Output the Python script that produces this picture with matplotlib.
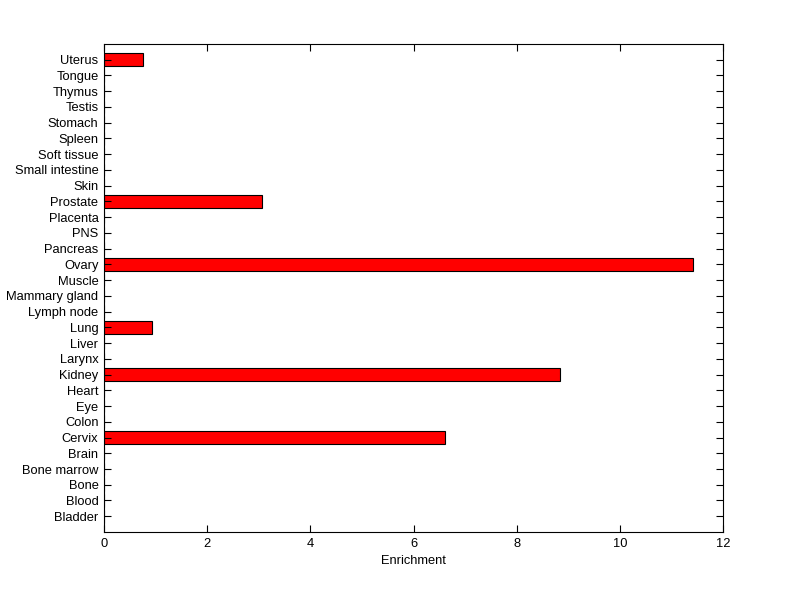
import numpy as np
import matplotlib
matplotlib.use("Agg")
import matplotlib.pyplot as plt

plt.rcParams['font.family'] = ['Liberation Sans', 'DejaVu Sans']
plt.rcParams['font.size'] = 9.3

tissues = ["Bladder", "Blood", "Bone", "Bone marrow", "Brain", "Cervix", "Colon",
           "Eye", "Heart", "Kidney", "Larynx", "Liver", "Lung", "Lymph node",
           "Mammary gland", "Muscle", "Ovary", "Pancreas", "PNS", "Placenta",
           "Prostate", "Skin", "Small intestine", "Soft tissue", "Spleen",
           "Stomach", "Testis", "Thymus", "Tongue", "Uterus"]
enrichment = [0, 0, 0, 0, 0, 6.61, 0,
              0, 0, 8.84, 0, 0, 0.93, 0,
              0, 0, 11.42, 0, 0, 0,
              3.06, 0, 0, 0, 0,
              0, 0, 0, 0, 0.75]

fig = plt.figure(figsize=(8, 5.99), dpi=100)
ax = fig.add_axes([0.13, 0.1119, 0.774, 0.8147])

ypos = np.arange(1, len(tissues) + 1)
ax.barh(ypos, enrichment, height=0.8, color='#ff0000', edgecolor='k', linewidth=0.8)

ax.set_xlim(0, 12)
ax.set_ylim(0, 31)
ax.set_xticks(np.arange(0, 13, 2))
ax.set_yticks(ypos)
ax.set_yticklabels(tissues)
ax.set_xlabel("Enrichment", labelpad=4)
ax.tick_params(direction='in', top=True, right=True, length=5, width=0.8, pad=4)
for s in ax.spines.values():
    s.set_linewidth(0.8)

fig.savefig("out.png", dpi=100)
